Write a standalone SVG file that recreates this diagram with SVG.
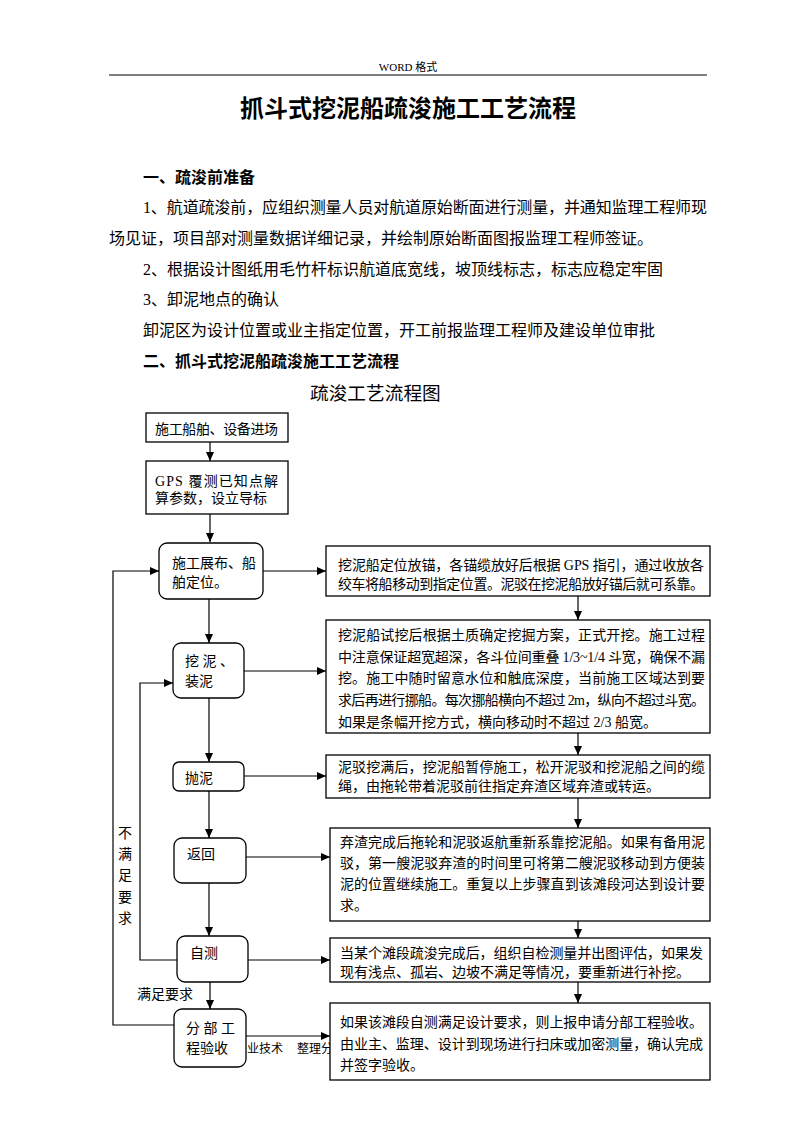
<svg xmlns="http://www.w3.org/2000/svg" width="793" height="1122" viewBox="0 0 793 1122">
<style>
text{font-family:"Liberation Serif","Noto Sans CJK SC",serif;fill:#000}
.h{font-size:11px}
.ti{font-size:24px;font-weight:bold;font-family:"Liberation Sans","Noto Sans CJK SC",sans-serif}
.p{font-size:16px}
.pb{font-size:16px;font-weight:bold;font-family:"Liberation Sans","Noto Sans CJK SC",sans-serif}
.st{font-size:18.7px}
.n{font-size:14px}
.g{font-size:12px}
.box{fill:#fff;stroke:#000;stroke-width:1.3}
.c{fill:none;stroke:#000;stroke-width:1.2}
</style>
<defs>
<marker id="ah" markerWidth="9" markerHeight="8" refX="9" refY="4" orient="auto" markerUnits="userSpaceOnUse"><path d="M0,0 L9,4 L0,8 z" fill="#000"/></marker>
</defs>
<rect x="0" y="0" width="793" height="1122" fill="#fff"/>

<g id="header">
<text class="h" x="408" y="71" text-anchor="middle">WORD 格式</text>
<line x1="109" y1="75" x2="707" y2="75" stroke="#000" stroke-width="1.2"/>
<text class="ti" x="408" y="117" text-anchor="middle">抓斗式挖泥船疏浚施工工艺流程</text>
</g>

<g id="body">
<text class="pb" x="143" y="183">一、疏浚前准备</text>
<text class="p" x="143" y="213" textLength="564" lengthAdjust="spacing">1、航道疏浚前，应组织测量人员对航道原始断面进行测量，并通知监理工程师现</text>
<text class="p" x="109" y="244">场见证，项目部对测量数据详细记录，并绘制原始断面图报监理工程师签证。</text>
<text class="p" x="143" y="275">2、根据设计图纸用毛竹杆标识航道底宽线，坡顶线标志，标志应稳定牢固</text>
<text class="p" x="143" y="305">3、卸泥地点的确认</text>
<text class="p" x="143" y="336">卸泥区为设计位置或业主指定位置，开工前报监理工程师及建设单位审批</text>
<text class="pb" x="143" y="367">二、抓斗式挖泥船疏浚施工工艺流程</text>
<text class="st" x="310" y="400">疏浚工艺流程图</text>
</g>

<g id="ghost">
<text class="g" x="247" y="1053">业技术</text>
<text class="g" x="297" y="1053">整理分</text>
</g>

<g id="connectors">
<line class="c" x1="210" y1="442" x2="210" y2="461" marker-end="url(#ah)"/>
<line class="c" x1="210" y1="514" x2="210" y2="542" marker-end="url(#ah)"/>
<line class="c" x1="263" y1="571" x2="326" y2="571" marker-end="url(#ah)"/>
<path class="c" d="M174,1025 H113 V571 H159" marker-end="url(#ah)"/>
<line class="c" x1="209" y1="599" x2="209" y2="643" marker-end="url(#ah)"/>
<line class="c" x1="244" y1="671" x2="326" y2="671" marker-end="url(#ah)"/>
<path class="c" d="M177,960 H140 V683 H173" marker-end="url(#ah)"/>
<line class="c" x1="209" y1="698" x2="209" y2="762" marker-end="url(#ah)"/>
<line class="c" x1="244" y1="776" x2="326" y2="776" marker-end="url(#ah)"/>
<line class="c" x1="209" y1="791" x2="209" y2="838" marker-end="url(#ah)"/>
<line class="c" x1="246" y1="857" x2="330" y2="857" marker-end="url(#ah)"/>
<line class="c" x1="209" y1="883" x2="209" y2="936" marker-end="url(#ah)"/>
<line class="c" x1="248" y1="960" x2="330" y2="960" marker-end="url(#ah)"/>
<line class="c" x1="210" y1="982" x2="210" y2="1009" marker-end="url(#ah)"/>
<line class="c" x1="246" y1="1036" x2="330" y2="1036" marker-end="url(#ah)"/>
<line class="c" x1="578" y1="596" x2="578" y2="620" marker-end="url(#ah)"/>
<line class="c" x1="578" y1="733" x2="578" y2="755" marker-end="url(#ah)"/>
<line class="c" x1="578" y1="798" x2="578" y2="828" marker-end="url(#ah)"/>
<line class="c" x1="578" y1="921" x2="578" y2="938" marker-end="url(#ah)"/>
<line class="c" x1="578" y1="982" x2="578" y2="1003" marker-end="url(#ah)"/>
</g>

<g id="labels">
<text class="n" x="125" y="838" text-anchor="middle">不</text>
<text class="n" x="125" y="859" text-anchor="middle">满</text>
<text class="n" x="125" y="880" text-anchor="middle">足</text>
<text class="n" x="125" y="902" text-anchor="middle">要</text>
<text class="n" x="125" y="923" text-anchor="middle">求</text>
<text class="n" x="137" y="999">满足要求</text>
</g>

<g id="n1">
<rect class="box" x="146" y="413" width="142" height="29"/>
<text class="n" x="155" y="434" textLength="123" lengthAdjust="spacing">施工船舶、设备进场</text>
</g>
<g id="n2">
<rect class="box" x="146" y="461" width="142" height="53"/>
<text class="n" x="155" y="486" textLength="123" lengthAdjust="spacing">GPS 覆测已知点解</text>
<text class="n" x="155" y="503">算参数，设立导标</text>
</g>
<g id="n3">
<rect class="box" x="159" y="543" width="104" height="56" rx="8"/>
<text class="n" x="172" y="568">施工展布、船</text>
<text class="n" x="172" y="587">舶定位。</text>
</g>
<g id="n4">
<rect class="box" x="173" y="643" width="71" height="55" rx="8"/>
<text class="n" x="185" y="666">挖 泥 、</text>
<text class="n" x="185" y="686">装泥</text>
</g>
<g id="n5">
<rect class="box" x="173" y="762" width="71" height="29" rx="6"/>
<text class="n" x="185" y="783">抛泥</text>
</g>
<g id="n6">
<rect class="box" x="174" y="838" width="72" height="45" rx="8"/>
<text class="n" x="187" y="859">返回</text>
</g>
<g id="n7">
<rect class="box" x="177" y="936" width="71" height="46" rx="8"/>
<text class="n" x="190" y="958">自测</text>
</g>
<g id="n8">
<rect class="box" x="174" y="1009" width="72" height="58" rx="8"/>
<text class="n" x="186" y="1033">分 部 工</text>
<text class="n" x="186" y="1053">程验收</text>
</g>

<g id="d1">
<rect class="box" x="326" y="546" width="384" height="50"/>
<text class="n" x="338" y="570" textLength="366" lengthAdjust="spacing">挖泥船定位放锚，各锚缆放好后根据 GPS 指引，通过收放各</text>
<text class="n" x="338" y="589" textLength="366" lengthAdjust="spacing">绞车将船移动到指定位置。泥驳在挖泥船放好锚后就可系靠。</text>
</g>
<g id="d2">
<rect class="box" x="326" y="620" width="384" height="113"/>
<text class="n" x="338" y="640" textLength="367" lengthAdjust="spacing">挖泥船试挖后根据土质确定挖掘方案，正式开挖。施工过程</text>
<text class="n" x="338" y="662" textLength="367" lengthAdjust="spacing">中注意保证超宽超深，各斗位间重叠 1/3~1/4 斗宽，确保不漏</text>
<text class="n" x="338" y="683" textLength="367" lengthAdjust="spacing">挖。施工中随时留意水位和触底深度，当前施工区域达到要</text>
<text class="n" x="338" y="705" textLength="367" lengthAdjust="spacing">求后再进行挪船。每次挪船横向不超过 2m，纵向不超过斗宽。</text>
<text class="n" x="338" y="727">如果是条幅开挖方式，横向移动时不超过 2/3 船宽。</text>
</g>
<g id="d3">
<rect class="box" x="326" y="755" width="384" height="43"/>
<text class="n" x="338" y="772" textLength="367" lengthAdjust="spacing">泥驳挖满后，挖泥船暂停施工，松开泥驳和挖泥船之间的缆</text>
<text class="n" x="338" y="791">绳，由拖轮带着泥驳前往指定弃渣区域弃渣或转运。</text>
</g>
<g id="d4">
<rect class="box" x="330" y="828" width="380" height="93"/>
<text class="n" x="340" y="847" textLength="365" lengthAdjust="spacing">弃渣完成后拖轮和泥驳返航重新系靠挖泥船。如果有备用泥</text>
<text class="n" x="340" y="868" textLength="365" lengthAdjust="spacing">驳，第一艘泥驳弃渣的时间里可将第二艘泥驳移动到方便装</text>
<text class="n" x="340" y="889" textLength="365" lengthAdjust="spacing">泥的位置继续施工。重复以上步骤直到该滩段河达到设计要</text>
<text class="n" x="340" y="910">求。</text>
</g>
<g id="d5">
<rect class="box" x="330" y="938" width="380" height="44"/>
<text class="n" x="340" y="958" textLength="363" lengthAdjust="spacing">当某个滩段疏浚完成后，组织自检测量并出图评估，如果发</text>
<text class="n" x="340" y="977">现有浅点、孤岩、边坡不满足等情况，要重新进行补挖。</text>
</g>
<g id="d6">
<rect class="box" x="330" y="1003" width="380" height="77"/>
<text class="n" x="340" y="1027" textLength="363" lengthAdjust="spacing">如果该滩段自测满足设计要求，则上报申请分部工程验收。</text>
<text class="n" x="340" y="1049" textLength="363" lengthAdjust="spacing">由业主、监理、设计到现场进行扫床或加密测量，确认完成</text>
<text class="n" x="340" y="1070">并签字验收。</text>
</g>
</svg>
